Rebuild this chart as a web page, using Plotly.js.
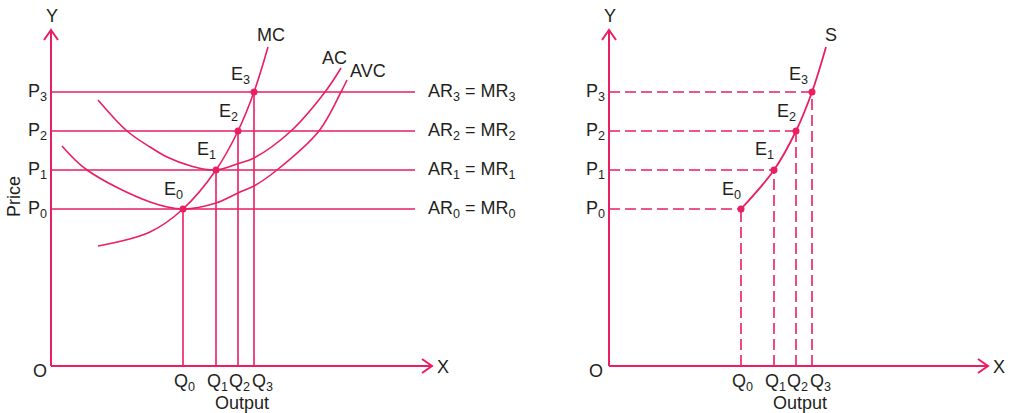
<!DOCTYPE html>
<html>
<head>
<meta charset="utf-8">
<script src="https://cdn.plot.ly/plotly-3.0.1.min.js"></script>
<style>html,body{margin:0;padding:0;background:#fff;}#chart{width:1010px;height:413px;}</style>
</head>
<body>
<div id="chart"></div>
<script>
// ---- data (arbitrary diagram units) ----
const qValues = [132, 165, 187, 203];          // Q0..Q3 output levels
const pValues = [157, 196, 235, 274];          // P0..P3 price levels
const qLabels = ['Q<sub>0</sub>', 'Q<sub>1</sub>', 'Q<sub>2</sub>', 'Q<sub>3</sub>'];
const pLabels = ['P<sub>0</sub>', 'P<sub>1</sub>', 'P<sub>2</sub>', 'P<sub>3</sub>'];
const eLabels = ['E<sub>0</sub>', 'E<sub>1</sub>', 'E<sub>2</sub>', 'E<sub>3</sub>'];
const arLabels = ['AR<sub>0</sub> = MR<sub>0</sub>', 'AR<sub>1</sub> = MR<sub>1</sub>', 'AR<sub>2</sub> = MR<sub>2</sub>', 'AR<sub>3</sub> = MR<sub>3</sub>'];

const mcX = [47, 99, 132, 165, 187, 203, 217];
const mcY = [120, 134, 157, 196, 235, 274, 319];
const acX = [47, 76, 99, 116, 140, 165, 189, 203, 240, 274, 290];
const acY = [266, 235, 219, 209, 200, 196, 203, 208, 235, 274, 298];
const avcX = [11, 36, 99, 132, 165, 189, 203, 226, 268, 290, 296];
const avcY = [220, 196, 164, 157, 163, 174, 180, 196, 235, 274, 286];
const sX = [132, 165, 187, 203, 217];
const sY = [157, 196, 235, 274, 319];

const priceLineEnd = 364;   // length of AR=MR lines
const xAxisLen = [381, 379];
const yAxisLen = 336;

// ---- style ----
const PINK = '#e91e63';
const TXT = '#231f20';
const FONT = 'Liberation Sans, Arial, sans-serif';
const FS = 18;

const traces = [];
function line(x, y, xa, ya, opts) {
  traces.push(Object.assign({
    type: 'scatter', mode: 'lines', x: x, y: y, xaxis: xa, yaxis: ya,
    line: {color: PINK, width: 1.6}, hoverinfo: 'skip', showlegend: false, cliponaxis: false
  }, opts || {}));
}

// Left panel
for (let i = 0; i < 4; i++) {
  line([0, priceLineEnd], [pValues[i], pValues[i]], 'x', 'y');
  line([qValues[i], qValues[i]], [0, pValues[i]], 'x', 'y');
}
line(mcX, mcY, 'x', 'y', {line: {color: PINK, width: 1.6, shape: 'spline', smoothing: 1}});
line(acX, acY, 'x', 'y', {line: {color: PINK, width: 1.6, shape: 'spline', smoothing: 1}});
line(avcX, avcY, 'x', 'y', {line: {color: PINK, width: 1.6, shape: 'spline', smoothing: 1}});
traces.push({type: 'scatter', mode: 'markers', x: qValues, y: pValues, xaxis: 'x', yaxis: 'y',
  marker: {color: PINK, size: 7}, hoverinfo: 'skip', showlegend: false, cliponaxis: false});

// Right panel
for (let i = 0; i < 4; i++) {
  line([0, qValues[i]], [pValues[i], pValues[i]], 'x2', 'y2', {line: {color: PINK, width: 1.6, dash: '11px,5px'}});
  line([qValues[i], qValues[i]], [0, pValues[i]], 'x2', 'y2', {line: {color: PINK, width: 1.6, dash: '11px,5px'}});
}
line(sX, sY, 'x2', 'y2', {line: {color: PINK, width: 1.8, shape: 'spline', smoothing: 1}});
traces.push({type: 'scatter', mode: 'markers', x: qValues, y: pValues, xaxis: 'x2', yaxis: 'y2',
  marker: {color: PINK, size: 7}, hoverinfo: 'skip', showlegend: false, cliponaxis: false});

// ---- axes arrows (shapes) ----
const shapes = [];
[['x', 'y', xAxisLen[0]], ['x2', 'y2', xAxisLen[1]]].forEach(([xr, yr, L]) => {
  const base = {xref: xr, yref: yr, line: {color: PINK, width: 2}};
  shapes.push(Object.assign({type: 'line', x0: 0, y0: 0, x1: L, y1: 0}, base));
  shapes.push(Object.assign({type: 'line', x0: 0, y0: 0, x1: 0, y1: yAxisLen}, base));
  shapes.push(Object.assign({type: 'path', path: `M${L - 10},7 L${L},0 L${L - 10},-7`}, base));
  shapes.push(Object.assign({type: 'path', path: `M-7,${yAxisLen - 10} L0,${yAxisLen} L7,${yAxisLen - 10}`}, base));
});

// ---- text ----
const ann = [];
function t(text, xr, yr, x, y, xanchor, yanchor, extra) {
  ann.push(Object.assign({text: text, xref: xr, yref: yr, x: x, y: y, xanchor: xanchor, yanchor: yanchor,
    showarrow: false, font: {family: FONT, size: FS, color: TXT}, borderpad: 0}, extra || {}));
}
const eOff = [[1, 6], [1, 7], [1, 6], [-3, 4]];
const qOff = [-10, -10, -10, -3];
[['x', 'y'], ['x2', 'y2']].forEach(([xr, yr], k) => {
  t('Y', xr, yr, 1, 350, 'center', 'middle');
  t('O', xr, yr, k ? -13 : -11, -5, 'center', 'middle');
  t('X', xr, yr, k ? 390 : 392, -1, 'center', 'middle');
  t('Output', xr, yr, 191, -37, 'center', 'middle');
  for (let i = 0; i < 4; i++) {
    t(pLabels[i], xr, yr, -3, pValues[i], 'right', 'middle');
    t(qLabels[i], xr, yr, qValues[i] + qOff[i], -4, 'left', 'top');
    t(eLabels[i], xr, yr, qValues[i] + eOff[i][0], pValues[i] + eOff[i][1], 'right', 'bottom');
  }
});
t('Price', 'x', 'y', -37, 169, 'center', 'middle', {textangle: -90});
t('MC', 'x', 'y', 220, 331, 'center', 'middle');
t('AC', 'x', 'y', 283, 308, 'center', 'middle');
t('AVC', 'x', 'y', 317, 295, 'center', 'middle');
for (let i = 0; i < 4; i++) t(arLabels[i], 'x', 'y', 376, pValues[i], 'left', 'middle');
t('S', 'x2', 'y2', 222, 331, 'center', 'middle');

const hidden = {visible: false, fixedrange: true, showgrid: false, zeroline: false};
const layout = {
  width: 1010, height: 413,
  margin: {l: 0, r: 0, t: 0, b: 0},
  paper_bgcolor: '#fff', plot_bgcolor: '#fff',
  showlegend: false,
  xaxis: Object.assign({domain: [0, 0.5], range: [-51, 454]}, hidden),
  yaxis: Object.assign({domain: [0, 1], range: [-47, 366]}, hidden),
  xaxis2: Object.assign({domain: [0.5, 1], range: [-104, 401], anchor: 'y2'}, hidden),
  yaxis2: Object.assign({domain: [0, 1], range: [-47, 366], anchor: 'x2'}, hidden),
  shapes: shapes,
  annotations: ann
};
Plotly.newPlot('chart', traces, layout, {staticPlot: true, displayModeBar: false});
</script>
</body>
</html>
